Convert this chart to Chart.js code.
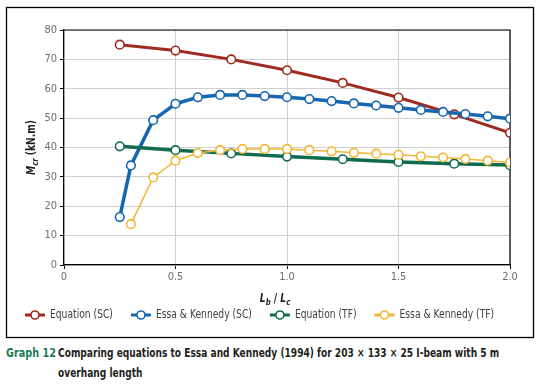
<!DOCTYPE html>
<html lang="en">
<head>
<meta charset="UTF-8">
<title>Graph 12</title>
<style>
body {
	margin: 0;
	width: 545px;
	height: 385px;
	background: #fff;
	position: relative;
	overflow: hidden;
	font-family: 'DejaVu Sans Condensed', 'Liberation Sans', sans-serif;
}
#wrap {
	position: absolute;
	left: 0;
	top: 0;
	width: 545px;
	height: 340px;
}
.num, .txt {
	position: absolute;
	top: 343px;
	font-weight: bold;
	line-height: 20px;
	white-space: nowrap;
	transform-origin: 0 0;
}
.num {
	left: 6px;
	font-size: 12.5px;
	color: #1a7a55;
	transform: scaleX(0.86);
}
.txt {
	left: 58px;
	font-size: 12px;
	color: #231f20;
	transform: scaleX(0.84);
}
</style>
<script src="https://cdn.jsdelivr.net/npm/chart.js"></script>
</head>
<body>
<div id="wrap"><canvas id="chart" width="545" height="340"></canvas></div>
<div class="num">Graph 12</div>
<div class="txt">Comparing equations to Essa and Kennedy (1994) for 203 × 133 × 25 I-beam with 5 m<br>overhang length</div>
<script>
const FONT = "'DejaVu Sans Condensed', 'Liberation Sans', sans-serif";
const SQUEEZE = 0.85;

// data
const seriesNames = ['Equation (SC)', 'Essa & Kennedy (SC)', 'Equation (TF)', 'Essa & Kennedy (TF)'];
const xEquation = [0.25, 0.5, 0.75, 1.0, 1.25, 1.5, 1.75, 2.0];
const eqSC = [75, 73, 70, 66.3, 62, 57, 51.3, 45];
const eqTF = [40.4, 39.1, 38, 36.9, 36, 35.1, 34.5, 34];
const xEssaSC = [0.25, 0.3, 0.4, 0.5, 0.6, 0.7, 0.8, 0.9, 1.0, 1.1, 1.2, 1.3, 1.4, 1.5, 1.6, 1.7, 1.8, 1.9, 2.0];
const essaSC = [16.3, 33.9, 49.3, 54.9, 57.1, 57.9, 57.9, 57.5, 57.1, 56.5, 55.8, 55.0, 54.3, 53.5, 52.8, 52.1, 51.4, 50.6, 49.8];
const xEssaTF = [0.3, 0.4, 0.5, 0.6, 0.7, 0.8, 0.9, 1.0, 1.1, 1.2, 1.3, 1.4, 1.5, 1.6, 1.7, 1.8, 1.9, 2.0];
const essaTF = [13.9, 29.8, 35.5, 38.1, 39.1, 39.5, 39.5, 39.5, 39.1, 38.7, 38.2, 37.9, 37.5, 37.0, 36.6, 36.1, 35.5, 34.9];
const xTickLabels = ['0', '0.5', '1.0', '1.5', '2.0'];
const yTickLabels = ['0', '10', '20', '30', '40', '50', '60', '70', '80'];

const colors = ['#9e2a20', '#1766b0', '#0f6b4f', '#f2b634'];

function pts(xs, ys) {
	return xs.map((x, i) => ({ x: x, y: ys[i] }));
}

function makeSet(i, data, width, order) {
	return {
		label: seriesNames[i],
		data: data,
		borderColor: colors[i],
		backgroundColor: '#fff',
		borderWidth: width,
		pointRadius: 4.3,
		pointBorderWidth: 1.6,
		pointBackgroundColor: '#fff',
		pointBorderColor: colors[i],
		order: order
	};
}

// draws text squeezed horizontally, returns the width used
function squeezedText(ctx, text, x, y) {
	ctx.save();
	ctx.translate(x, y);
	ctx.scale(SQUEEZE, 1);
	ctx.fillText(text, 0, 0);
	ctx.restore();
	return ctx.measureText(text).width * SQUEEZE;
}

// frame, plot border, axis titles, legend
const decor = {
	id: 'decor',
	beforeDraw(chart) {
		const ctx = chart.ctx;
		ctx.save();
		ctx.strokeStyle = '#000';
		ctx.lineWidth = 1.3;
		ctx.strokeRect(6.5, 7.5, 527, 330);
		ctx.restore();
	},
	beforeDatasetsDraw(chart) {
		const a = chart.chartArea;
		const ctx = chart.ctx;
		ctx.save();
		ctx.strokeStyle = '#000';
		ctx.lineWidth = 1.2;
		ctx.beginPath();
		ctx.moveTo(a.left, a.top);
		ctx.lineTo(a.right, a.top);
		ctx.lineTo(a.right, a.bottom);
		ctx.stroke();
		ctx.restore();
	},
	afterDraw(chart) {
		const ctx = chart.ctx;
		const a = chart.chartArea;
		ctx.save();
		ctx.fillStyle = '#231f20';
		ctx.textBaseline = 'alphabetic';

		// y title: M_cr (kN.m)
		const yParts = [
			['M', 'italic bold 12px ' + FONT, 0],
			['cr', 'italic bold 9px ' + FONT, 3],
			[' (kN.m)', 'bold 12px ' + FONT, 0]
		];
		let tw = 0;
		yParts.forEach(p => { ctx.font = p[1]; tw += ctx.measureText(p[0]).width * SQUEEZE; });
		ctx.translate(35, (a.top + a.bottom) / 2);
		ctx.rotate(-Math.PI / 2);
		let x = -tw / 2;
		yParts.forEach(p => { ctx.font = p[1]; x += squeezedText(ctx, p[0], x, p[2]); });
		ctx.setTransform(1, 0, 0, 1, 0, 0);

		// x title: L_b / L_c
		const xParts = [
			['L', 'italic bold 12px ' + FONT, 0],
			['b', 'italic bold 9px ' + FONT, 3],
			[' / ', 'bold 12px ' + FONT, 0],
			['L', 'italic bold 12px ' + FONT, 0],
			['c', 'italic bold 9px ' + FONT, 3]
		];
		tw = 0;
		xParts.forEach(p => { ctx.font = p[1]; tw += ctx.measureText(p[0]).width * SQUEEZE; });
		x = 275 - tw / 2;
		xParts.forEach(p => { ctx.font = p[1]; x += squeezedText(ctx, p[0], x, 302 + p[2]); });

		// legend
		ctx.font = '12px ' + FONT;
		ctx.textBaseline = 'middle';
		let lx = 25;
		const ly = 315;
		chart.data.datasets.forEach(ds => {
			ctx.strokeStyle = ds.borderColor;
			ctx.lineWidth = 3;
			ctx.beginPath();
			ctx.moveTo(lx, ly);
			ctx.lineTo(lx + 20, ly);
			ctx.stroke();
			ctx.beginPath();
			ctx.arc(lx + 10, ly, 4, 0, Math.PI * 2);
			ctx.fillStyle = '#fff';
			ctx.fill();
			ctx.lineWidth = 1.6;
			ctx.stroke();
			ctx.fillStyle = '#414042';
			const w = squeezedText(ctx, ds.label, lx + 25, ly);
			lx += 25 + w + 18;
		});
		ctx.restore();
	}
};

new Chart(document.getElementById('chart'), {
	type: 'line',
	data: {
		datasets: [
			makeSet(0, pts(xEquation, eqSC), 3, 4),
			makeSet(1, pts(xEssaSC, essaSC), 3.5, 3),
			makeSet(2, pts(xEquation, eqTF), 3.5, 2),
			makeSet(3, pts(xEssaTF, essaTF), 1.5, 1)
		]
	},
	options: {
		responsive: false,
		animation: false,
		layout: { padding: { left: 0, right: 35, top: 30, bottom: 0 } },
		plugins: {
			legend: { display: false },
			tooltip: { enabled: false }
		},
		scales: {
			x: {
				type: 'linear',
				min: 0,
				max: 2,
				grid: { color: '#cfcfcf', tickColor: '#000', tickLength: 4, lineWidth: 1 },
				border: { color: '#000', width: 1.2 },
				ticks: {
					stepSize: 0.5,
					padding: 2,
					color: '#6d6e70',
					font: { family: FONT, size: 11 },
					callback: v => xTickLabels[Math.round(v / 0.5)]
				},
				afterFit(scale) { scale.height = 75; }
			},
			y: {
				min: 0,
				max: 80,
				grid: { color: '#cfcfcf', tickColor: '#000', tickLength: 4, lineWidth: 1 },
				border: { color: '#000', width: 1.2 },
				ticks: {
					stepSize: 10,
					padding: 3,
					color: '#6d6e70',
					font: { family: FONT, size: 11 },
					callback: v => yTickLabels[Math.round(v / 10)]
				},
				afterFit(scale) { scale.width = 64; }
			}
		}
	},
	plugins: [decor]
});
</script>
</body>
</html>
